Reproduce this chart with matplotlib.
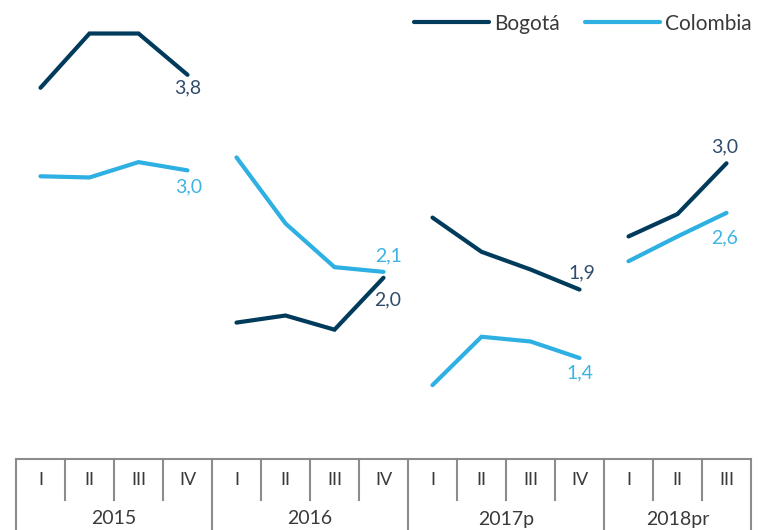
import numpy as np
import matplotlib
matplotlib.use("Agg")
import matplotlib.pyplot as plt
import matplotlib.transforms as mtransforms

plt.rcParams['font.family'] = ['Lato', 'DejaVu Sans']

# data
years = ['2015', '2016', '2017p', '2018pr']
quarters = [['I', 'II', 'III', 'IV'], ['I', 'II', 'III', 'IV'],
            ['I', 'II', 'III', 'IV'], ['I', 'II', 'III']]
bogota = [[3.68, 4.14, 4.14, 3.79],
          [1.69, 1.75, 1.63, 2.07],
          [2.58, 2.29, 2.14, 1.97],
          [2.42, 2.61, 3.04]]
colombia = [[2.93, 2.92, 3.05, 2.98],
            [3.09, 2.53, 2.16, 2.12],
            [1.16, 1.57, 1.53, 1.39],
            [2.21, 2.42, 2.62]]
bogota_labels = ['3,8', '2,0', '1,9', '3,0']
colombia_labels = ['3,0', '2,1', '1,4', '2,6']

NAVY = '#003b5c'
SKY = '#2eb0e2'
NAVY_TXT = '#2f4d6b'
SKY_TXT = '#3db4e4'
GRID = '#8c8c8c'
TXT = '#3a3a3a'

# label offsets in pixels (x, y) for the last point of each year
bog_off = [(0, -13), (4, -22), (2, 17), (-2, 16)]
col_off = [(1, -16), (5, 16), (0, -15), (-2, -25)]

fig = plt.figure(figsize=(7.58, 5.30), dpi=100)
W, H = 758, 530
ax = fig.add_axes([16 / W, (H - 459) / H, (751 - 16) / W, 459 / H])
ax.set_xlim(-0.5, 14.5)
ax.set_ylim(0.534, 4.424)
ax.axis('off')

start = 0
for i, yr in enumerate(years):
    n = len(quarters[i])
    xs = np.arange(start, start + n)
    ax.plot(xs, bogota[i], color=NAVY, lw=3.0, solid_capstyle='round',
            solid_joinstyle='miter', label='Bogotá' if i == 0 else None)
    ax.plot(xs, colombia[i], color=SKY, lw=3.0, solid_capstyle='round',
            solid_joinstyle='miter', label='Colombia' if i == 0 else None)
    ax.annotate(bogota_labels[i], (xs[-1], bogota[i][-1]), xytext=bog_off[i],
                textcoords='offset pixels', ha='center', va='center',
                fontsize=14, color=NAVY_TXT)
    ax.annotate(colombia_labels[i], (xs[-1], colombia[i][-1]), xytext=col_off[i],
                textcoords='offset pixels', ha='center', va='center',
                fontsize=14, color=SKY_TXT)
    start += n

# category axis drawn as boxes below the plot
trans = mtransforms.blended_transform_factory(ax.transData, ax.transAxes)
y_top = 0.0
y_qbot = -41 / 459
y_bot = -71 / 459
ax.plot([-0.5, 14.5], [y_top, y_top], color=GRID, lw=1.5, transform=trans, clip_on=False)
start = 0
for i, yr in enumerate(years):
    n = len(quarters[i])
    ax.plot([start - 0.5, start - 0.5], [y_top, y_bot], color=GRID, lw=1.5,
            transform=trans, clip_on=False)
    for j, q in enumerate(quarters[i]):
        if j > 0:
            ax.plot([start + j - 0.5] * 2, [y_top, y_qbot], color=GRID, lw=1.5,
                    transform=trans, clip_on=False)
        ax.text(start + j, -21 / 459, q, transform=trans, ha='center', va='center',
                fontsize=13, color=TXT)
    ax.text(start + (n - 1) / 2, -60 / 459, yr, transform=trans, ha='center',
            va='center', fontsize=14, color=TXT)
    start += n
ax.plot([14.5, 14.5], [y_top, y_bot], color=GRID, lw=1.5, transform=trans, clip_on=False)

fig.legend(loc='upper right', bbox_to_anchor=(1.003, 0.99), ncol=2, frameon=False,
           fontsize=15, handlelength=3.6, handletextpad=0.25, columnspacing=1.2,
           borderaxespad=0.0, labelcolor=TXT)

fig.savefig('out.png', dpi=100)
